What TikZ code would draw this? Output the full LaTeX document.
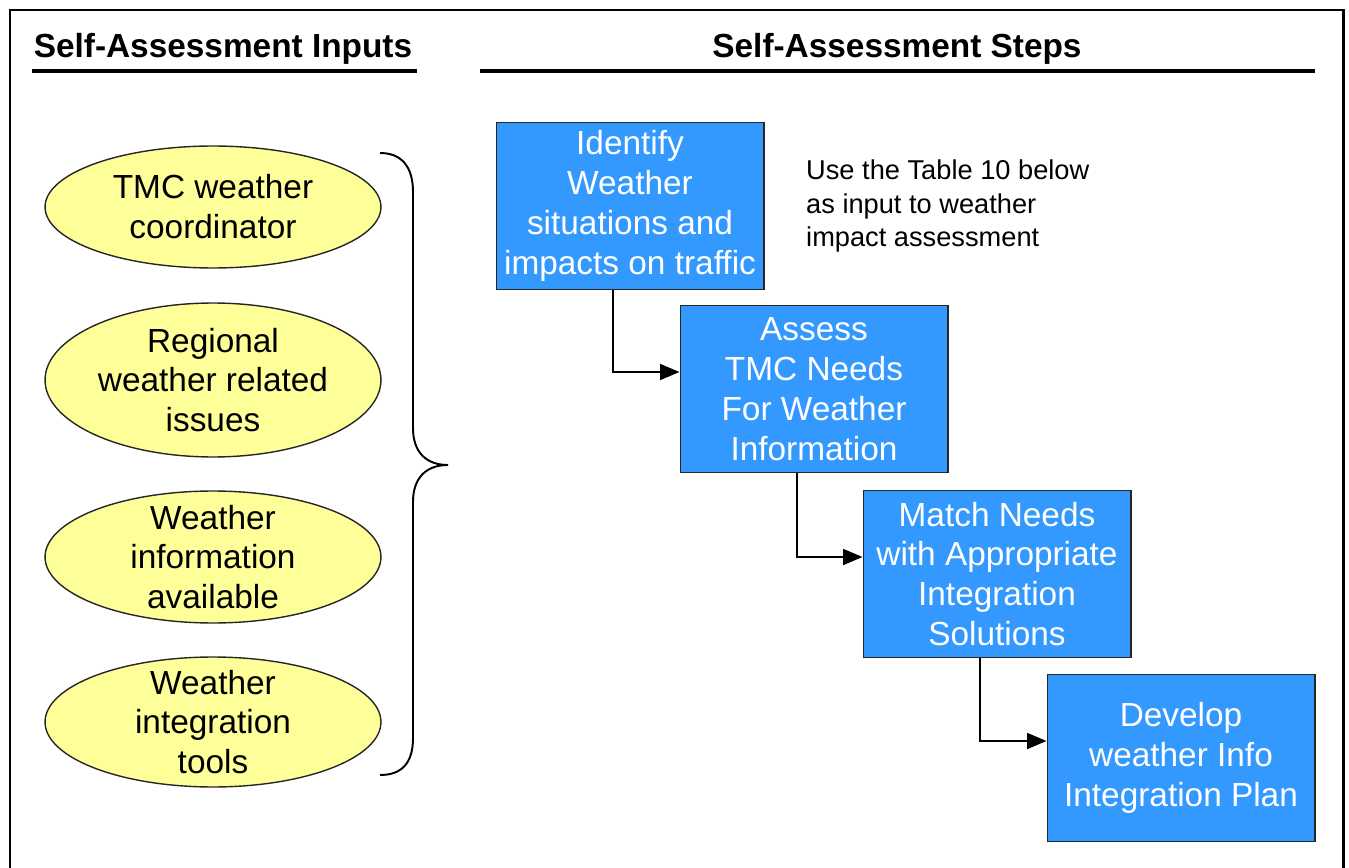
\documentclass[tikz,border=0pt]{standalone}
\usepackage{fontspec}
\setmainfont{Liberation Sans}
\usepackage{xcolor}
\usetikzlibrary{arrows.meta, positioning}
\definecolor{stepblue}{HTML}{3399FF}
\definecolor{inyellow}{HTML}{FFFF99}

\begin{document}
\begin{tikzpicture}[x=0.02cm, y=-0.02cm,
    colhead/.style={font=\bfseries\fontsize{19}{22}\selectfont},
    headrule/.style={line width=2pt},
    intext/.style={align=center, inner sep=0pt, font=\fontsize{19}{22.7}\selectfont},
    inshape/.style={draw=black!85, fill=inyellow, line width=0.8pt},
    stepbox/.style={draw=black!85, fill=stepblue, text=white, align=center, line width=0.6pt,
        minimum width=5.36cm, minimum height=3.34cm, inner sep=0pt, font=\fontsize{19}{22.7}\selectfont},
    conn/.style={-{Triangle[length=11pt, width=9pt]}, line width=1.1pt}]

\useasboundingbox (0,0) rectangle (1349,868);

% ── Frame (open at the bottom) ────────────────────────────────────
\draw[line width=1.7pt] (10,900) -- (10,10) -- (1343,10) -- (1343,900);

% ── Column headings ───────────────────────────────────────────────
\node[colhead] (hin) at (223,49) {Self-Assessment Inputs};
\draw[headrule] (32,71) -- (417,71);
\node[colhead] (hsteps) at (897,49) {Self-Assessment Steps};
\draw[headrule] (480,71) -- (1315,71);

% ── Inputs ────────────────────────────────────────────────────────
\path[inshape] (213,207) ellipse (3.36cm and 1.22cm)
    node[intext] (in1) {TMC weather\\coordinator};
\path[inshape] (213,380) ellipse (3.36cm and 1.54cm)
    node[intext] (in2) {Regional\\weather related\\issues};
\path[inshape] (213,557) ellipse (3.36cm and 1.32cm)
    node[intext] (in3) {Weather\\information\\available};
\path[inshape] (213,722) ellipse (3.36cm and 1.3cm)
    node[intext] (in4) {Weather\\integration\\tools};

% Brace gathering the inputs
\draw[line width=1.1pt]
    (380,153) .. controls (401,153) and (413,166) .. (413,192) -- (413,428)
    .. controls (413,452) and (426,465) .. (448,465)
    .. controls (426,465) and (413,478) .. (413,502) -- (413,738)
    .. controls (413,764) and (401,775) .. (380,775);

% ── Steps ─────────────────────────────────────────────────────────
\node[stepbox] (s1) at (630,206) {Identify\\Weather\\situations and\\impacts on traffic};
\node[stepbox] (s2) at (814,389) {Assess\\TMC Needs\\For Weather\\Information};
\node[stepbox] (s3) at (997,574) {Match Needs\\with Appropriate\\Integration\\Solutions};
\node[stepbox] (s4) at (1181,758) {Develop\\weather Info\\Integration Plan};

\node[anchor=west, align=left, font=\fontsize{15.5}{19.3}\selectfont] (note) at (800,206)
    {Use the Table 10 below\\as input to weather\\impact assessment};

% Step connectors
\draw[conn] ([xshift=-0.34cm]s1.south) |- ([yshift=0.34cm]s2.west);
\draw[conn] ([xshift=-0.34cm]s2.south) |- ([yshift=0.34cm]s3.west);
\draw[conn] ([xshift=-0.34cm]s3.south) |- ([yshift=0.34cm]s4.west);

\end{tikzpicture}
\end{document}
